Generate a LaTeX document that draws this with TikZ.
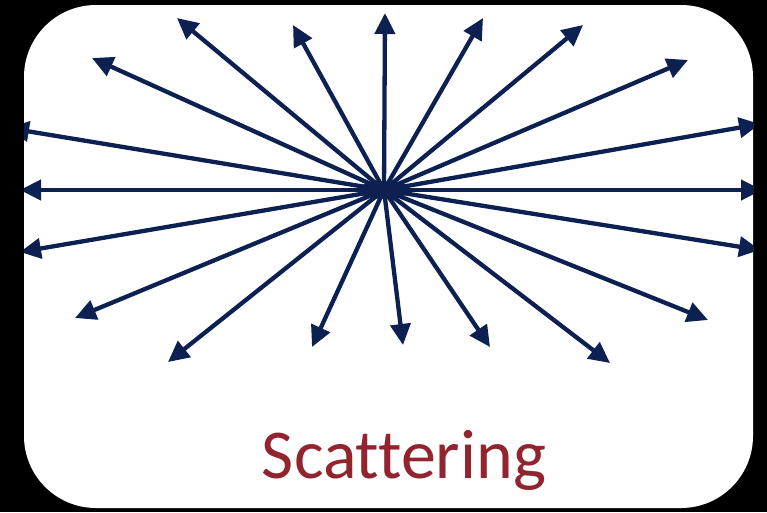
\documentclass[tikz,border=0pt]{standalone}
\usepackage{fontspec}
\setmainfont{Carlito}[Ligatures=NoCommon]
\usetikzlibrary{arrows.meta}
\definecolor{raynavy}{RGB}{12, 32, 82}
\definecolor{labelred}{RGB}{145, 36, 46}

\tikzset{
  ray/.style={raynavy, line width=4.3pt, -{Triangle[length=21pt,width=20pt]}},
}

\begin{document}
\begin{tikzpicture}[x=1pt, y=-1pt]
  \useasboundingbox (0,0) rectangle (767,512);
  \fill[black] (0,0) rectangle (767,512);

  % card
  \fill[white, rounded corners=72pt] (24,5) rectangle (753,508);

  \coordinate (c) at (384,190);

  % tips, clockwise from top
  \foreach \x/\y [count=\i] in {385/13, 483/18, 583/25, 688/60, 760/124,
      762/190, 760/250, 708/320, 610/363, 490/347, 403/345,
      312/347, 168/362, 75/318, 20/252, 20/190, 8/128, 92/58,
      177/18, 293/25}
    \coordinate (t\i) at (\x,\y);

  % rays
  \begin{scope}
    \clip[rounded corners=72pt] (24,5) rectangle (753,508);
    \foreach \i in {1,...,20}
      \draw[ray] (c) -- (t\i);
    \fill[raynavy] (c) ellipse (26pt and 9pt);
  \end{scope}

  \node[text=labelred, font=\fontsize{70}{80}\selectfont, anchor=base] (lbl) at (404,478) {Scattering};
\end{tikzpicture}
\end{document}
